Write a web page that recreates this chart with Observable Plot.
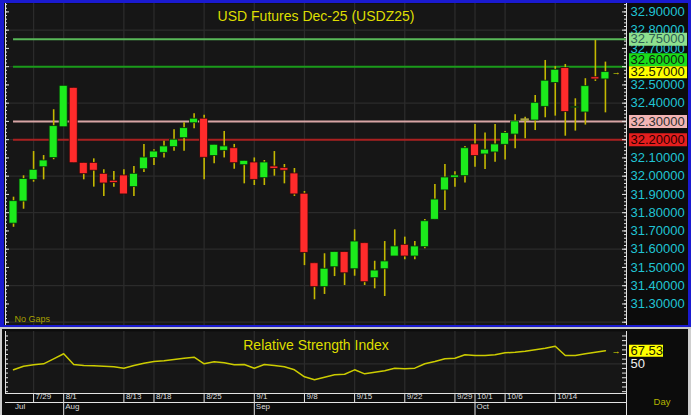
<!DOCTYPE html>
<html><head><meta charset="utf-8">
<script src="https://cdn.jsdelivr.net/npm/d3@7"></script>
<script src="https://cdn.jsdelivr.net/npm/@observablehq/plot@0.6"></script>
<style>
body{margin:0;background:#c8c8c8;}
#wrap{position:relative;width:691px;height:415px;overflow:hidden;background:#c8c8c8;}
#wrap svg{position:absolute;left:0;}
.bd{position:absolute;box-sizing:border-box;pointer-events:none;}
</style></head><body>
<div id="wrap"></div>
<script>
// ---------- data ----------
const title = "USD Futures Dec-25 (USDZ25)";
const rsiTitle = "Relative Strength Index";
const open  = [31.740,31.861,31.980,32.049,32.099,32.268,32.484,32.073,32.073,32.013,31.975,32.004,31.940,32.038,32.099,32.128,32.159,32.208,32.290,32.315,32.110,32.139,32.153,32.060,32.075,31.989,32.053,32.044,32.015,31.904,31.523,31.392,31.501,31.584,31.490,31.633,31.441,31.490,31.560,31.624,31.560,31.611,31.761,31.922,31.991,32.000,32.174,32.119,32.130,32.172,32.228,32.310,32.305,32.380,32.510,32.592,32.375,32.349,32.542,32.530];
const high  = [31.885,32.002,32.135,32.113,32.364,32.495,32.484,32.073,32.095,32.035,32.026,32.035,32.053,32.174,32.145,32.192,32.254,32.293,32.342,32.334,32.172,32.245,32.174,32.084,32.100,32.086,32.135,32.064,32.042,31.916,31.523,31.575,31.584,31.584,31.706,31.633,31.534,31.642,31.706,31.666,31.642,31.763,31.955,32.064,32.024,32.163,32.283,32.236,32.283,32.245,32.336,32.323,32.442,32.634,32.600,32.612,32.424,32.534,32.744,32.625];
const low   = [31.720,31.819,31.967,31.980,32.090,32.268,32.071,31.980,31.940,31.889,31.940,31.900,31.889,32.020,32.059,32.099,32.137,32.137,32.260,31.980,32.068,32.100,32.038,31.958,31.949,31.949,32.000,31.958,31.889,31.510,31.323,31.352,31.450,31.401,31.452,31.401,31.383,31.341,31.560,31.542,31.542,31.602,31.761,31.812,31.940,31.962,32.049,32.037,32.077,32.088,32.150,32.205,32.250,32.320,32.329,32.219,32.247,32.280,32.519,32.347];
const close = [31.863,31.984,32.035,32.086,32.274,32.495,32.071,32.011,32.030,31.960,31.962,31.900,32.013,32.102,32.135,32.163,32.200,32.263,32.315,32.101,32.172,32.163,32.071,32.084,31.980,32.075,32.040,32.030,31.900,31.580,31.392,31.493,31.584,31.468,31.642,31.419,31.483,31.533,31.615,31.560,31.615,31.753,31.872,31.993,32.004,32.153,32.110,32.145,32.174,32.236,32.300,32.310,32.402,32.523,32.583,32.351,32.380,32.493,32.530,32.570];
const rsi   = [41.9,46.8,48.7,50.0,56.7,63.5,49.1,47.7,47.3,46.8,46.0,44.1,47.7,50.8,53.1,54.0,55.8,57.5,58.9,50.0,52.7,51.3,48.7,49.1,44.1,49.1,47.7,46.0,41.9,32.5,28.4,31.9,35.2,36.0,41.9,36.5,38.7,40.6,44.1,43.3,44.1,50.0,53.1,56.7,57.5,62.1,61.2,61.2,62.1,64.8,65.6,67.0,68.9,71.0,73.7,61.2,61.2,63.5,65.6,67.53];
const dateTickIdx    = [2,5,11,14,19,24,29,34,39,44,46,49,54];
const dateTickLabels = ["7/29","8/1","8/13","8/18","8/25","9/1","9/8","9/15","9/22","9/29","10/1","10/6","10/14"];
const monthIdx    = [0,5,24,46];
const monthLabels = ["Jul","Aug","Sep","Oct"];
const levelValues = [32.75,32.60,32.30,32.20];
const priceTicks  = d3.range(313,330).map(k=>k/10);      // 31.3 .. 32.9
const priceGrid   = d3.range(156,165).map(k=>k/5);       // 31.2 .. 32.8
const priceMinor  = d3.range(1560,1648).map(k=>k/50);
const priceMajor  = d3.range(312,330).map(k=>k/10);
const rsiMinor    = d3.range(2,15).map(k=>k*6.25);
const rsiLabelVal = [50];

// ---------- styles ----------
const FONT = '"Liberation Sans", Arial, Helvetica, sans-serif';
const UP = "#1ceb1c", DOWN = "#ff2b2b", WICK = "#c4b800", DOJI = "#a8a044";
const GRID = "#2b2b2b", AXIS = "#e2e2e2", CYAN = "#20c4d4", YEL = "#dede00";
const levelStyle = {
  32.75: {line:"#58b858", box:"#8ee08e", text:"#2f5f55"},
  32.6:  {line:"#1a9a1a", box:"#1adc1a", text:"#102010"},
  32.3:  {line:"#d8a5a5", box:"#f2b4b4", text:"#303030"},
  32.2:  {line:"#aa2020", box:"#e41e1e", text:"#2a0000"}
};
const W = 691, mL = 5, mR = 65, plotW = W - mL - mR;
const xDomain = [-0.8, 61.1];

const candles = open.map((o,i)=>({i, open:o, high:high[i], low:low[i], close:close[i]}));
const up = candles.filter(d=>d.close>d.open);
const down = candles.filter(d=>d.close<d.open);
const flat = candles.filter(d=>d.close===d.open);
const levels = levelValues.map(v=>({value:v}));
const lastClose = close[close.length-1];
const lastRsi = rsi[rsi.length-1];
const boxStd = levels.filter(d=>d.value!==32.6);
const boxShift = levels.filter(d=>d.value===32.6);
// axis labels replaced by a level box at the same value are not drawn
const plainTicks = priceTicks.filter(t=>!levelValues.some(v=>Math.abs(v-t)<1e-9));

// ---------- main chart ----------
const main = Plot.plot({
  width: W, height: 327,
  marginLeft: mL, marginRight: mR, marginTop: 3, marginBottom: 2,
  x: {domain: xDomain, axis: null},
  y: {domain: [31.182, 32.946], axis: null},
  color: {type: "identity"},
  style: {background: "#0c0c0c", fontFamily: FONT},
  marks: [
    Plot.frame({fill: "#161616", stroke: "none"}),
    Plot.ruleY(priceGrid, {stroke: GRID, strokeWidth: 1.3}),
    Plot.ruleX(dateTickIdx, {stroke: GRID, strokeWidth: 1.3}),
    Plot.ruleY(levels, {y: "value", x1: 0, x2: xDomain[1], stroke: d=>levelStyle[d.value].line, strokeWidth: 2}),
    Plot.ruleX(candles, {x: "i", y1: "low", y2: "high", stroke: WICK, strokeWidth: 1.6}),
    Plot.rect(up, {x1: d=>d.i-0.4, x2: d=>d.i+0.4, y1: "open", y2: "close", fill: UP, stroke: "#0b2a0b", strokeWidth: 0.8}),
    Plot.rect(down, {x1: d=>d.i-0.4, x2: d=>d.i+0.4, y1: "open", y2: "close", fill: DOWN, stroke: "#2a0b0b", strokeWidth: 0.8}),
    Plot.ruleY(flat, {y: "open", x1: d=>d.i-0.42, x2: d=>d.i+0.42, stroke: DOJI, strokeWidth: 2.5}),
    Plot.ruleX(xDomain, {stroke: AXIS, strokeWidth: 1}),
    Plot.ruleY(priceMinor, {stroke: AXIS, insetRight: plotW - 2}),
    Plot.ruleY(priceMajor, {stroke: AXIS, insetRight: plotW - 4}),
    Plot.ruleY(priceMinor, {stroke: AXIS, insetLeft: plotW - 2}),
    Plot.ruleY(priceMajor, {stroke: AXIS, insetLeft: plotW - 4}),
    Plot.text(plainTicks, {y: d=>d, text: d=>d.toFixed(5), frameAnchor: "right", dx: 4, textAnchor: "start", fill: CYAN, fontSize: 13}),
    Plot.ruleY(boxStd, {y: "value", stroke: d=>levelStyle[d.value].box, strokeWidth: 13, insetLeft: plotW + 3, insetRight: -61}),
    Plot.text(boxStd, {y: "value", text: d=>d.value.toFixed(5), frameAnchor: "right", dx: 4, textAnchor: "start", fill: d=>levelStyle[d.value].text, fontSize: 13}),
    Plot.ruleY(boxShift, {y: "value", dy: -7, stroke: d=>levelStyle[d.value].box, strokeWidth: 13, insetLeft: plotW + 3, insetRight: -61}),
    Plot.text(boxShift, {y: "value", dy: -7, text: d=>d.value.toFixed(5), frameAnchor: "right", dx: 4, textAnchor: "start", fill: d=>levelStyle[d.value].text, fontSize: 13}),
    Plot.ruleY([lastClose], {stroke: "#ffff00", strokeWidth: 12, insetLeft: plotW + 3, insetRight: -61}),
    Plot.text([lastClose], {y: d=>d, text: d=>d.toFixed(5), frameAnchor: "right", dx: 4, textAnchor: "start", fill: "#202000", fontSize: 13}),
    Plot.text([lastClose], {y: d=>d, text: ()=>"→", frameAnchor: "right", dx: -6, fill: YEL, fontSize: 9}),
    Plot.text([title], {text: d=>d, frameAnchor: "top", dy: 8, fill: YEL, fontSize: 14}),
    Plot.text(["No Gaps"], {text: d=>d, frameAnchor: "bottom-left", dx: 9, dy: -4, textAnchor: "start", fill: "#a8a000", fontSize: 9})
  ]
});
main.style.top = "0px";

// ---------- RSI chart ----------
const rsiData = rsi.map((v,i)=>({i, v}));
const rsiPlotH = 62;
const rsiChart = Plot.plot({
  width: W, height: 86,
  marginLeft: mL, marginRight: mR, marginTop: 2, marginBottom: 22,
  x: {domain: xDomain, axis: null},
  y: {domain: [10, 93.5], axis: null},
  style: {background: "#0c0c0c", fontFamily: FONT},
  marks: [
    Plot.frame({fill: "#161616", stroke: "none"}),
    Plot.ruleY([50], {stroke: GRID, strokeWidth: 1.3}),
    Plot.ruleX(dateTickIdx, {stroke: GRID, strokeWidth: 1.3}),
    Plot.line(rsiData, {x: "i", y: "v", stroke: "#cccc00", strokeWidth: 1.5}),
    Plot.ruleX([xDomain[0]], {stroke: AXIS}),
    Plot.ruleX([xDomain[1]], {stroke: AXIS, insetBottom: -22}),
    Plot.ruleY(rsiMinor, {stroke: AXIS, insetRight: plotW - 3}),
    Plot.ruleY(rsiMinor, {stroke: AXIS, insetLeft: plotW - 4}),
    Plot.ruleY([10], {stroke: AXIS}),
    Plot.ruleY([10], {stroke: AXIS, dy: 9}),
    Plot.ruleX(dateTickIdx, {stroke: AXIS, insetTop: rsiPlotH, insetBottom: -9}),
    Plot.ruleX(monthIdx.slice(1), {stroke: AXIS, insetTop: rsiPlotH + 9, insetBottom: -22}),
    Plot.text(dateTickIdx, {x: d=>d, text: (d,i)=>dateTickLabels[i], frameAnchor: "bottom", dy: 5.5, dx: 2, textAnchor: "start", fill: "#dcdcdc", fontSize: 8}),
    Plot.text(monthIdx, {x: d=>d, text: (d,i)=>monthLabels[i], frameAnchor: "bottom", dy: 15, dx: 1.5, textAnchor: "start", fill: "#dcdcdc", fontSize: 8}),
    Plot.text(rsiLabelVal, {y: d=>d, text: d=>String(d), frameAnchor: "right", dx: 4, textAnchor: "start", fill: "#f0f0f0", fontSize: 13}),
    Plot.ruleY([lastRsi], {stroke: "#ffff00", strokeWidth: 12, insetLeft: plotW + 3, insetRight: -37}),
    Plot.text([lastRsi], {y: d=>d, text: d=>d.toFixed(2), frameAnchor: "right", dx: 4, textAnchor: "start", fill: "#202000", fontSize: 13}),
    Plot.text([lastRsi], {y: d=>d, text: ()=>"→", frameAnchor: "right", dx: -6, fill: YEL, fontSize: 9}),
    Plot.text([rsiTitle], {text: d=>d, frameAnchor: "top", dy: 9, fill: YEL, fontSize: 14}),
    Plot.text(["Day"], {text: d=>d, frameAnchor: "bottom-right", dx: 44, dy: 11, fill: "#b4b400", fontSize: 9.5})
  ]
});
rsiChart.style.top = "329px";

const wrap = document.getElementById("wrap");
wrap.appendChild(main);
wrap.appendChild(rsiChart);
const b1 = document.createElement("div");
b1.className = "bd";
Object.assign(b1.style, {left:"0px", top:"0px", width:"691px", height:"327px", borderStyle:"solid", borderColor:"#1a1ad0", borderWidth:"3px 3px 2px 4px"});
wrap.appendChild(b1);
const b2 = document.createElement("div");
b2.className = "bd";
Object.assign(b2.style, {left:"0px", top:"329px", width:"691px", height:"86px", borderStyle:"solid", borderColor:"#cfcfcf", borderWidth:"0px 3px 0px 2px"});
wrap.appendChild(b2);
</script></body></html>
